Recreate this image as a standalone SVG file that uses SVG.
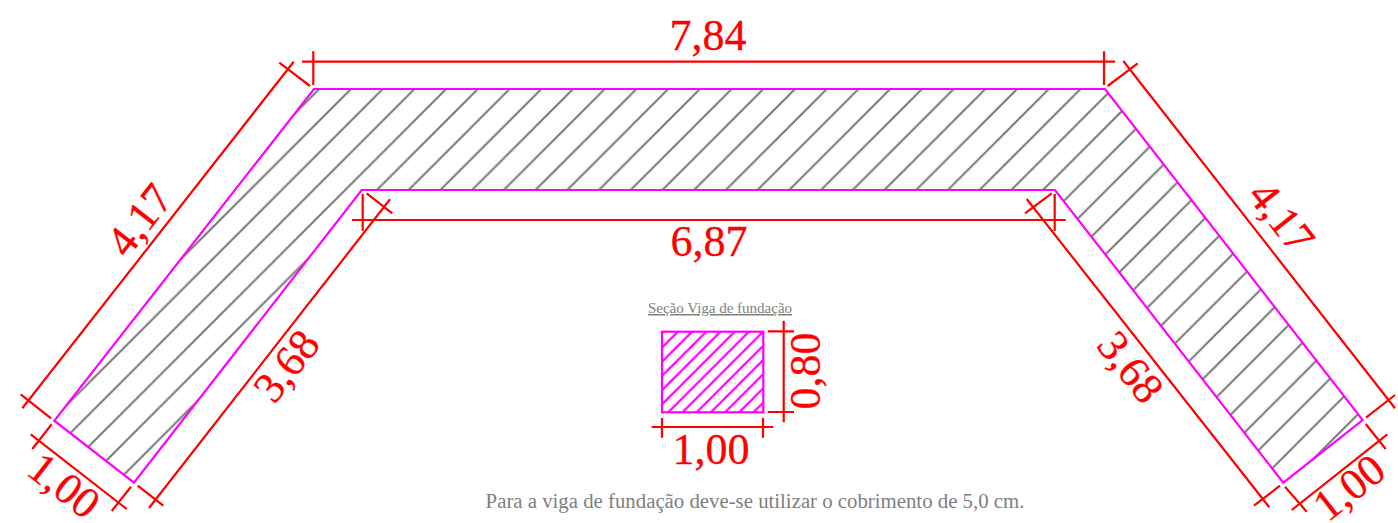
<svg xmlns="http://www.w3.org/2000/svg" width="1398" height="523" viewBox="0 0 1398 523">
<style>
.dim{stroke:#ff0000;stroke-width:2.2;fill:none}
.edge{stroke:#ff00ff;stroke-width:2.2;fill:none;stroke-linejoin:miter}
.hatch{stroke:#787878;stroke-width:2;fill:none}
.mh{stroke:#ff00ff;stroke-width:2.2;fill:none}
.t{font-family:"Liberation Serif","Times New Roman",serif;fill:#ff0000;stroke:#ff0000;stroke-width:.3;font-size:44px;text-anchor:middle}
.g{font-family:"Liberation Serif","Times New Roman",serif;fill:#808080;text-anchor:middle}
.u{text-decoration:underline;text-decoration-thickness:2px;text-underline-offset:2px}
</style>
<defs>
<pattern id="hp" patternUnits="userSpaceOnUse" width="31.72" height="31.72" patternTransform="translate(408.3 0)"><path class="hatch" d="M-1 1L1 -1M0 31.72L31.72 0M30.72 32.72L32.72 30.72"/></pattern>
<pattern id="mp" patternUnits="userSpaceOnUse" width="14.2" height="14.2" patternTransform="translate(668.3 412.3)"><path class="mh" d="M-1 1L1 -1M0 14.2L14.2 0M13.2 15.2L15.2 13.2"/></pattern>
</defs>
<g id="beam-plan">
<polygon points="314,89 1105,89 1362.7,420 1283.3,482.7 1055,190 361.7,190 134,482.7 54.3,420.7" fill="url(#hp)"/>
<polygon class="edge" points="314,89 1105,89 1362.7,420 1283.3,482.7 1055,190 361.7,190 134,482.7 54.3,420.7"/>
</g>
<g id="section">
<rect x="662" y="331.7" width="101.3" height="80.6" fill="url(#mp)"/>
<rect class="edge" x="662" y="331.7" width="101.3" height="80.6"/>
</g>
<g id="dimensions">
<path class="dim" d="M302 61.7H1115M313.3 51.3V85M1104 51.3V85"/>
<path class="dim" d="M293.7 61.7L22.3 408.3M279.3 62.7L310 86M20.7 394.3L51 418.3"/>
<path class="dim" d="M30.7 434.3L126.7 509M51.7 424.3L32.3 449M131 486.7L111.7 511"/>
<path class="dim" d="M390 199.3L149 508M137.7 485.7L163.3 505.7M366.7 193.3L392.3 213.3"/>
<path class="dim" d="M352 220H1065.7M362.7 194V230.7M1054.7 194V231"/>
<path class="dim" d="M1026.7 199L1269.3 507.3M1051.7 193.3L1025 213.3M1280 485.7L1254 505.7"/>
<path class="dim" d="M1123.3 61L1395 408.3M1137.7 63.3L1107.7 86M1395 395L1366 417.7"/>
<path class="dim" d="M1291.7 510L1387.3 434.3M1285 486.7L1306.7 511.7M1365.7 424L1385.7 449"/>
<path class="dim" d="M651.7 427H773.3M662 418V437.7M763 418V437.7"/>
<path class="dim" d="M783.7 320.7V422.3M767.7 331.3H794M767.7 412H794"/>
</g>
<g id="labels">
<text class="t" x="708" y="50">7,84</text>
<text class="t" x="709" y="256">6,87</text>
<text class="t" x="711" y="464">1,00</text>
<text class="t" transform="translate(820 371) rotate(-90)">0,80</text>
<text class="t" transform="translate(151 229) rotate(-52)">4,17</text>
<text class="t" transform="translate(298 375) rotate(-52)">3,68</text>
<text class="t" transform="translate(55 497) rotate(38)">1,00</text>
<text class="t" transform="translate(1270 226) rotate(52)">4,17</text>
<text class="t" transform="translate(1119 376) rotate(52)">3,68</text>
<text class="t" transform="translate(1358 499) rotate(-38)">1,00</text>
<text class="g u" x="720" y="313" font-size="15">Seção Viga de fundação</text>
<text class="g" x="755" y="508" font-size="20.8">Para a viga de fundação deve-se utilizar o cobrimento de 5,0 cm.</text>
</g>
</svg>
